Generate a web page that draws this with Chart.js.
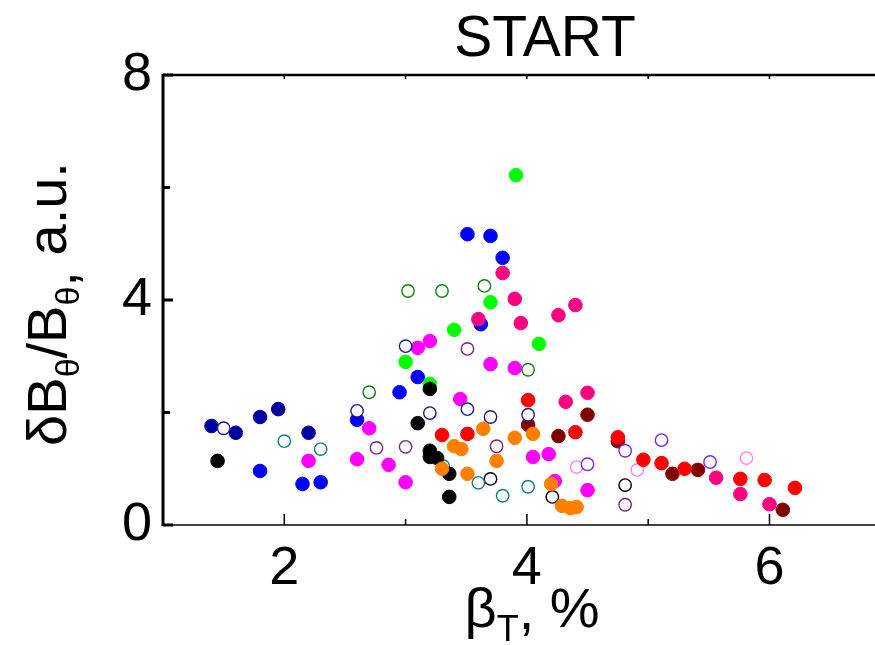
<!DOCTYPE html>
<html>
<head>
<meta charset="utf-8">
<script src="https://cdn.jsdelivr.net/npm/chart.js@4"></script>
<style>
  html, body { margin: 0; padding: 0; background: #fff; overflow: hidden; }
  canvas { display: block; }
</style>
</head>
<body>
<canvas id="chart" width="875" height="645"></canvas>
<script>
// tick labels
const xTicks = [2, 4, 6];
const yTicks = [0, 4, 8];

// each group of shots: [betaT %, dB/B a.u.]
const orangePts = [[3.30,1.00],[3.40,1.40],[3.46,1.35],[3.51,0.91],[3.64,1.71],[3.75,1.14],[3.90,1.55],[4.05,1.62],[4.20,0.73],[4.29,0.34],[4.36,0.30],[4.41,0.32]];
const redPts = [[3.30,1.60],[3.51,1.62],[4.01,2.22],[4.40,1.65],[4.75,1.56],[4.96,1.16],[5.11,1.10],[5.30,1.00],[5.76,0.82],[5.96,0.80],[6.21,0.66]];
const blackPts = [[1.45,1.14],[3.10,1.81],[3.20,2.42],[3.20,1.32],[3.20,1.21],[3.26,1.19],[3.36,0.91],[3.36,0.50]];
const pinkPts = [[3.80,4.48],[3.90,4.02],[3.95,3.59],[3.60,3.66],[4.26,3.73],[4.40,3.91],[4.32,2.19],[4.50,2.35],[5.56,0.84],[5.76,0.55],[6.00,0.37]];
const navyOpenPts = [[1.50,1.72],[2.60,2.03],[3.00,3.18],[3.20,1.99],[3.51,2.06],[3.70,1.92],[4.01,1.96]];
const greenOpenPts = [[3.02,4.16],[3.30,4.16],[3.65,4.25],[2.70,2.36],[4.01,2.76]];
const tealOpenPts = [[2.00,1.49],[2.30,1.35],[3.31,1.05],[3.60,0.75],[3.80,0.52],[4.01,0.68]];
const purpleOpenPts = [[2.76,1.37],[3.00,1.39],[3.51,3.13],[3.75,1.40],[4.81,0.36]];
const blackOpenPts = [[3.70,0.82],[4.21,0.50],[4.81,0.71]];
const violetOpenPts = [[4.50,1.08],[4.81,1.32],[5.11,1.51],[5.51,1.12]];
const lightPinkOpenPts = [[4.41,1.03],[4.91,0.98],[5.81,1.19]];
const magentaPts = [[2.20,1.14],[2.60,1.17],[2.70,1.72],[2.86,1.07],[3.00,0.76],[3.10,3.15],[3.20,3.27],[3.45,2.24],[3.70,2.86],[3.90,2.79],[4.05,1.21],[4.18,1.26],[4.23,0.78],[4.50,0.62]];
const darkRedPts = [[4.01,1.78],[4.26,1.58],[4.50,1.96],[4.75,1.49],[5.20,0.91],[5.41,0.98],[6.11,0.27]];
const greenPts = [[3.91,6.22],[3.70,3.96],[3.40,3.47],[4.10,3.22],[3.00,2.90],[3.20,2.51]];
const bluePts = [[1.80,0.96],[2.15,0.73],[2.30,0.76],[2.60,1.87],[2.95,2.36],[3.10,2.63],[3.51,5.17],[3.70,5.14],[3.80,4.75],[3.62,3.57]];
const navyPts = [[1.40,1.76],[1.60,1.64],[1.80,1.92],[1.95,2.06],[2.20,1.64]];

function filled(pts, color) {
  return {
    data: pts.map(p => ({x: p[0], y: p[1]})),
    backgroundColor: color, borderColor: color, borderWidth: 1,
    pointRadius: 6.8, pointHoverRadius: 6.8
  };
}
function open(pts, color) {
  return {
    data: pts.map(p => ({x: p[0], y: p[1]})),
    backgroundColor: '#ffffff', borderColor: color, borderWidth: 1.4,
    pointRadius: 6.2, pointHoverRadius: 6.2
  };
}

// first dataset is drawn on top
const datasets = [
  filled(orangePts, '#ff8000'),
  filled(redPts, '#ff0000'),
  filled(blackPts, '#000000'),
  filled(pinkPts, '#ff0080'),
  open(navyOpenPts, '#1a1a8c'),
  open(greenOpenPts, '#108010'),
  open(tealOpenPts, '#108080'),
  open(purpleOpenPts, '#802080'),
  open(blackOpenPts, '#000000'),
  open(violetOpenPts, '#8020ff'),
  open(lightPinkOpenPts, '#ff80ff'),
  filled(magentaPts, '#ff00ff'),
  filled(darkRedPts, '#800000'),
  filled(greenPts, '#00ff00'),
  filled(bluePts, '#0000ff'),
  filled(navyPts, '#0000a0')
];

const FONT = '"Liberation Sans", Arial, sans-serif';

// inner ticks, frame top line and titles
const decor = {
  id: 'decor',
  afterDraw(chart) {
    const ctx = chart.ctx;
    const a = chart.chartArea;
    const xs = chart.scales.x, ys = chart.scales.y;
    ctx.save();
    ctx.strokeStyle = '#000';
    // top line
    ctx.lineWidth = 2.5;
    ctx.beginPath();
    ctx.moveTo(a.left, a.top); ctx.lineTo(a.right, a.top);
    ctx.stroke();
    ctx.lineWidth = 1.5;
    for (let v = 1; v <= 6; v++) {
      const px = xs.getPixelForValue(v);
      ctx.beginPath(); ctx.moveTo(px, a.top); ctx.lineTo(px, a.top + 4); ctx.stroke();
    }
    // bottom ticks
    for (let v = 2; v <= 6; v++) {
      const px = xs.getPixelForValue(v);
      const len = v % 2 === 0 ? 11 : 6;
      ctx.beginPath(); ctx.moveTo(px, a.bottom); ctx.lineTo(px, a.bottom - len); ctx.stroke();
    }
    // left ticks
    ctx.lineWidth = 3;
    for (let v = 0; v <= 8; v += 2) {
      const py = ys.getPixelForValue(v);
      const len = v % 4 === 0 ? 10 : 7;
      ctx.beginPath(); ctx.moveTo(a.left, py); ctx.lineTo(a.left + len, py); ctx.stroke();
    }
    ctx.lineWidth = 3;
    ctx.beginPath(); ctx.moveTo(a.left, a.top - 1); ctx.lineTo(a.left, a.bottom + 1); ctx.stroke();

    ctx.fillStyle = '#000';
    ctx.textBaseline = 'alphabetic';
    // title
    ctx.font = '57px ' + FONT;
    ctx.textAlign = 'center';
    ctx.fillText('START', 545, 56);

    // x title: beta_T, %
    const parts = [['β', 56, 0], ['T', 36, 14], [',', 56, 2], [' %', 56, 0]];
    drawParts(ctx, parts, 532, 627);

    // y title rotated
    ctx.save();
    ctx.translate(66, 304);
    ctx.rotate(-Math.PI / 2);
    const yparts = [['δB', 56, 0], ['θ', 34, 13], ['/B', 56, 0], ['θ', 34, 13], [',', 56, 10], [' a.u.', 56, 0]];
    drawParts(ctx, yparts, 0, 0);
    ctx.restore();
    ctx.restore();
  }
};

function drawParts(ctx, parts, cx, baseY) {
  let total = 0;
  parts.forEach(p => { ctx.font = p[1] + 'px ' + FONT; total += ctx.measureText(p[0]).width; });
  let x = cx - total / 2;
  ctx.textAlign = 'left';
  parts.forEach(p => {
    ctx.font = p[1] + 'px ' + FONT;
    ctx.fillText(p[0], x, baseY + p[2]);
    x += ctx.measureText(p[0]).width;
  });
}

new Chart(document.getElementById('chart'), {
  type: 'scatter',
  data: { datasets: datasets },
  options: {
    responsive: false,
    animation: false,
    devicePixelRatio: 1,
    layout: { autoPadding: false, padding: { top: 75, right: 0, left: 0, bottom: 0 } },
    plugins: { legend: { display: false }, tooltip: { enabled: false } },
    scales: {
      x: {
        type: 'linear', min: 1, max: 6.87,
        grid: { display: false, drawTicks: false },
        border: { display: true, color: '#444', width: 2 },
        ticks: {
          stepSize: 1, includeBounds: false, padding: 12, color: '#000',
          font: { family: FONT, size: 54 },
          maxRotation: 0, autoSkip: false,
          callback: v => xTicks.includes(v) ? String(v) : ''
        },
        afterFit: s => { s.height = 120; }
      },
      y: {
        min: 0, max: 8,
        grid: { display: false, drawTicks: false },
        border: { display: false },
        ticks: {
          stepSize: 4, padding: 11, color: '#000',
          font: { family: FONT, size: 54 },
          callback: v => yTicks.includes(v) ? String(v) : ''
        },
        afterFit: s => { s.width = 163; }
      }
    }
  },
  plugins: [decor]
});
</script>
</body>
</html>
